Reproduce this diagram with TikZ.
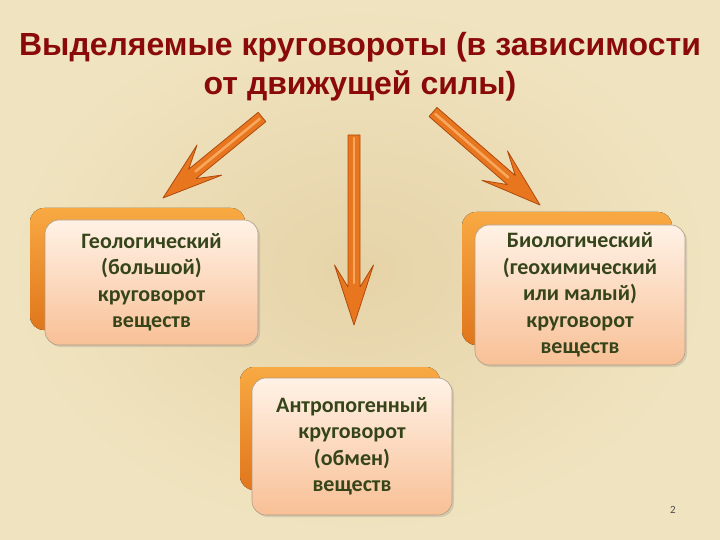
\documentclass[tikz,border=0pt]{standalone}
\usepackage{fontspec}
\setmainfont{Liberation Sans}
\newfontfamily\boxfont{Carlito}
\usetikzlibrary{calc,shadows}
\definecolor{bgin}{HTML}{E6D3A8}
\definecolor{bgout}{HTML}{F0E4C0}
\definecolor{titlered}{HTML}{8A0A0A}
\definecolor{boxtext}{HTML}{36441A}
\definecolor{backtop}{HTML}{F8A942}
\definecolor{backbot}{HTML}{E0761C}
\definecolor{fronttop}{HTML}{FFF2E6}
\definecolor{frontbot}{HTML}{F8C096}
\definecolor{frontedge}{HTML}{B09C86}
\definecolor{arrowfill}{HTML}{E8761E}
\definecolor{arrowedge}{HTML}{B04A0C}
\definecolor{arrowhi}{HTML}{F7A85E}
\newcommand\fatarrow[2]{%
  \fill[arrowfill, draw=arrowedge, line width=0.8pt, line join=round]
    ($(#1)!6pt!90:(#2)$) -- ($(#2)!38pt!(#1)!6pt!-90:(#1)$) --
    ($(#2)!60pt!(#1)!19.5pt!-90:(#1)$) -- (#2) --
    ($(#2)!60pt!(#1)!19.5pt!90:(#1)$) -- ($(#2)!38pt!(#1)!6pt!90:(#1)$) --
    ($(#1)!6pt!-90:(#2)$) -- cycle;
  \draw[arrowhi, line width=2.5pt, line cap=round] ($(#1)!3pt!(#2)$) -- ($(#2)!42pt!(#1)$);
}
\tikzset{
  backbox/.style={top color=backtop, bottom color=backbot, rounded corners=14pt},
  frontbox/.style={top color=fronttop, bottom color=frontbot, draw=frontedge, line width=0.6pt,
    rounded corners=14pt, inner sep=0pt, align=center, text=boxtext,
    font=\boxfont\bfseries\fontsize{22}{26.5}\selectfont,
    drop shadow={opacity=0.25, shadow xshift=2pt, shadow yshift=-2pt}},
  titlestyle/.style={text=titlered, align=center, inner sep=0pt,
    font=\bfseries\fontsize{32}{39}\selectfont}
}
\begin{document}
\begin{tikzpicture}[x=1pt,y=-1pt]
\useasboundingbox (0,0) rectangle (720,540);
\shade[inner color=bgin, outer color=bgout] (0,0) rectangle (720,540);

\node[titlestyle, anchor=north] (title) at (360,32) {Выделяемые круговороты (в зависимости\\от движущей силы)};

% back plates
\fill[backbox] (30,208) rectangle (245,330);
\fill[backbox] (462,212) rectangle (672,345);
\fill[backbox] (240,367) rectangle (440,490);

% front boxes
\node[frontbox, minimum width=213pt, minimum height=125pt] (geo) at (151.5,282.5)
  {Геологический\\(большой)\\круговорот\\веществ};
\node[frontbox, minimum width=210pt, minimum height=140pt] (bio) at (580,295)
  {Биологический\\(геохимический\\или малый)\\круговорот\\веществ};
\node[frontbox, minimum width=200pt, minimum height=137pt] (antro) at (352,446.5)
  {Антропогенный\\круговорот\\(обмен)\\веществ};

% arrows
\coordinate (l1) at (262,117); \coordinate (l2) at (163,198);
\coordinate (m1) at (354,135); \coordinate (m2) at (354,325);
\coordinate (r1) at (433,112); \coordinate (r2) at (540,205);
\fatarrow{l1}{l2}
\fatarrow{m1}{m2}
\fatarrow{r1}{r2}

\node[text=black!70, font=\boxfont\fontsize{11}{13}\selectfont] (pg) at (673,510) {2};
\end{tikzpicture}
\end{document}
